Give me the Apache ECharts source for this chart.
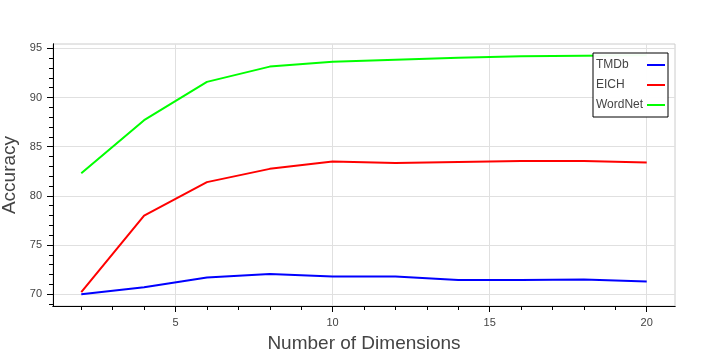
<!DOCTYPE html>
<html>
<head>
<meta charset="utf-8">
<title>Accuracy vs Number of Dimensions</title>
<script src="https://cdn.jsdelivr.net/npm/echarts@6/dist/echarts.min.js"></script>
<style>
  html, body { margin: 0; padding: 0; background: #fff; }
  #chart { width: 719px; height: 359px; }
</style>
</head>
<body>
<div id="chart"></div>
<script>
// data
var dims = [2, 4, 6, 8, 10, 12, 14, 16, 18, 20];
var tmdb = [70.0, 70.7, 71.7, 72.05, 71.8, 71.8, 71.45, 71.45, 71.5, 71.3];
var eich = [70.2, 78.0, 81.4, 82.75, 83.5, 83.35, 83.45, 83.55, 83.55, 83.4];
var wordnet = [82.3, 87.7, 91.6, 93.15, 93.65, 93.85, 94.05, 94.2, 94.25, 94.3];

var xMajor = [5, 10, 15, 20];
var xMinor = [2, 3, 4, 6, 7, 8, 9, 11, 12, 13, 14, 16, 17, 18, 19];
var yMajor = [70, 75, 80, 85, 90, 95];
var yMinor = [69, 71, 72, 73, 74, 76, 77, 78, 79, 81, 82, 83, 84, 86, 87, 88, 89, 91, 92, 93, 94];

var font = 'Liberation Sans, Arial, Helvetica, sans-serif';

function pairs(ys) {
  return dims.map(function (d, i) { return [d, ys[i]]; });
}

function line(name, color, ys) {
  return {
    name: name,
    type: 'line',
    data: pairs(ys),
    showSymbol: false,
    symbol: 'none',
    lineStyle: { color: color, width: 2 },
    itemStyle: { color: color }
  };
}

var chart = echarts.init(document.getElementById('chart'));
chart.setOption({
  animation: false,
  backgroundColor: '#fff',
  grid: {
    left: 53, right: 44, top: 44, bottom: 53,
    containLabel: false,
    outerBoundsMode: 'none',
    show: true, borderColor: '#cccccc', borderWidth: 1
  },
  legend: {
    orient: 'vertical',
    left: 593, top: 53,
    align: 'right',
    icon: 'rect',
    itemWidth: 18, itemHeight: 2,
    itemGap: 6,
    padding: [5, 3, 5, 3],
    backgroundColor: 'rgba(255,255,255,0.95)',
    borderColor: '#000', borderWidth: 1, borderRadius: 0,
    formatter: '{n|{name}}',
    textStyle: {
      fontFamily: font, fontSize: 12, color: '#444', lineHeight: 14,
      rich: { n: { width: 46, align: 'left', fontFamily: font, fontSize: 12, color: '#444' } }
    },
    data: ['TMDb', 'EICH', 'WordNet']
  },
  xAxis: [{
    type: 'value',
    min: 1.1, max: 20.9,
    name: 'Number of Dimensions',
    nameLocation: 'middle',
    nameGap: 28,
    nameTextStyle: { fontFamily: font, fontSize: 19, color: '#444' },
    axisLine: { lineStyle: { color: '#000', width: 1 } },
    axisTick: { show: true, length: 6, customValues: xMajor, lineStyle: { color: '#000' } },
    axisLabel: { customValues: xMajor, fontFamily: font, fontSize: 11, color: '#444', margin: 11 },
    splitLine: { show: true, lineStyle: { color: '#e0e0e0', width: 1 } }
  }, {
    type: 'value',
    min: 1.1, max: 20.9,
    position: 'bottom',
    offset: 0,
    axisLine: { show: true, lineStyle: { color: '#000', width: 1 } },
    axisTick: { show: true, length: 4, customValues: xMinor, lineStyle: { color: '#000' } },
    axisLabel: { show: false },
    splitLine: { show: false }
  }],
  yAxis: [{
    type: 'value',
    min: 68.8, max: 95.45,
    name: 'Accuracy',
    nameLocation: 'middle',
    nameGap: 27,
    nameTextStyle: { fontFamily: font, fontSize: 19, color: '#444' },
    axisLine: { show: true, lineStyle: { color: '#000', width: 1 } },
    axisTick: { show: true, length: 6, customValues: yMajor, lineStyle: { color: '#000' } },
    axisLabel: { customValues: yMajor, fontFamily: font, fontSize: 11, color: '#444', margin: 11 },
    splitLine: { show: true, lineStyle: { color: '#e0e0e0', width: 1 } }
  }, {
    type: 'value',
    min: 68.8, max: 95.45,
    position: 'left',
    offset: 0,
    axisLine: { show: true, lineStyle: { color: '#000', width: 1 } },
    axisTick: { show: true, length: 4, customValues: yMinor, lineStyle: { color: '#000' } },
    axisLabel: { show: false },
    splitLine: { show: false }
  }],
  series: [
    line('TMDb', '#0000ff', tmdb),
    line('EICH', '#ff0000', eich),
    line('WordNet', '#00ff00', wordnet)
  ]
});
</script>
</body>
</html>
